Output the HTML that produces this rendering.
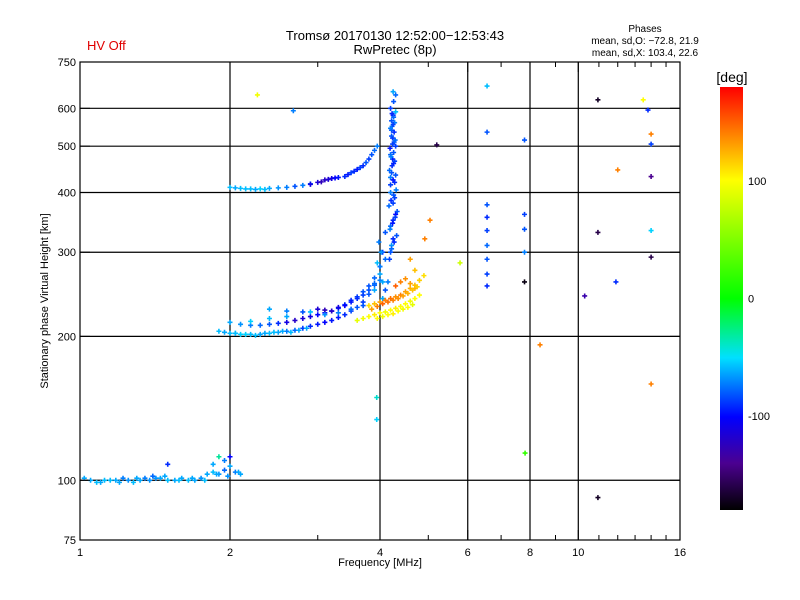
<!DOCTYPE html>
<html><head><meta charset="utf-8"><style>
body{margin:0;background:#fff;}
svg{display:block;font-family:"Liberation Sans",sans-serif;}
</style></head><body>
<svg id="chart" width="800" height="600" viewBox="0 0 800 600">
<defs>
<linearGradient id="cb" x1="0" y1="1" x2="0" y2="0">
<stop offset="0" stop-color="#000000"/>
<stop offset="0.11" stop-color="#4b0090"/>
<stop offset="0.22" stop-color="#0000ff"/>
<stop offset="0.36" stop-color="#00e0ff"/>
<stop offset="0.5" stop-color="#00ff00"/>
<stop offset="0.78" stop-color="#ffff00"/>
<stop offset="0.89" stop-color="#ff8000"/>
<stop offset="1" stop-color="#ff0000"/>
</linearGradient>
</defs>
<text x="87" y="50" fill="#e00000" font-size="13">HV Off</text>
<text x="395" y="40" text-anchor="middle" font-size="13">Tromsø 20170130 12:52:00−12:53:43</text>
<text x="395" y="54" text-anchor="middle" font-size="13">RwPretec (8p)</text>
<text x="645" y="32" text-anchor="middle" font-size="10">Phases</text>
<text x="645" y="44" text-anchor="middle" font-size="10">mean, sd,O: −72.8, 21.9</text>
<text x="645" y="56" text-anchor="middle" font-size="10">mean, sd,X: 103.4, 22.6</text>
<g id="grid"></g>
<g id="marks"></g>
<g id="axes"></g>
<rect x="80" y="62" width="600" height="478" fill="none" stroke="#000" stroke-width="1.2"/>
<text x="380" y="566" text-anchor="middle" font-size="11">Frequency [MHz]</text>
<text transform="translate(48,301) rotate(-90)" text-anchor="middle" font-size="11">Stationary phase Virtual Height [km]</text>
<rect x="720" y="87" width="23" height="423" fill="url(#cb)"/>
<text x="732" y="82" text-anchor="middle" font-size="14">[deg]</text>
<g id="cbaxis"></g>
</svg>
<script>
const xTicks=[1,2,4,6,8,10,16];
const xGrid=[2,4,6,8,10];
const xMinor=[3,5,7,9,11,12,13,14,15];
const yTicks=[75,100,200,300,400,500,600,750];
const yGrid=[100,200,300,400,500,600];
const cbTicks=[100,0,-100];
// points: frequency (MHz), virtual height (km), phase (deg)
const freq=[1.05,1.1,1.15,1.2,1.25,1.3,1.35,1.4,1.45,1.5,1.55,1.6,1.65,1.7,1.75,1.8,1.85,1.9,1.95,2.0,2.05,2.1,1.5,1.9,2.0,
1.9,1.95,2.0,2.05,2.1,2.2,2.3,2.4,2.5,2.6,2.7,2.8,2.9,3.0,3.1,3.2,3.3,3.4,3.5,3.6,3.7,3.8,3.9,4.0,4.05,4.1,
2.0,2.1,2.2,2.3,2.4,2.5,2.6,2.7,2.8,2.9,3.0,3.1,3.2,3.3,3.4,3.5,3.6,3.7,3.8,3.9,4.0,
2.4,2.6,2.8,3.0,3.1,3.2,3.3,3.4,3.5,3.6,3.7,3.8,3.9,4.0,
4.2,4.25,4.2,4.3,4.25,4.2,4.28,4.22,4.26,4.2,4.3,4.24,4.22,4.28,4.25,4.2,4.26,4.3,4.22,4.25,4.28,4.2,4.24,4.27,4.23,4.3,4.25,4.15,4.1,4.05,
2.0,2.05,2.1,2.2,2.3,2.4,2.5,2.6,2.8,2.9,3.0,3.1,3.2,3.3,3.4,3.5,3.6,3.7,3.8,3.85,3.9,3.95,
3.8,3.9,4.0,4.1,4.2,4.3,4.4,4.5,4.6,4.7,4.8,4.9,4.3,4.4,4.5,4.6,4.7,
3.6,3.7,3.8,3.9,4.0,4.1,4.2,4.3,4.4,4.5,4.6,4.7,4.8,
2.27,2.68,6.56,6.56,5.2,7.8,10.95,13.5,13.8,14,14,12.0,14,10.95,14,14,10.3,11.9,14,8.38,7.82,10.95,
6.56,6.56,6.56,6.56,6.56,6.56,6.56,7.8,7.8,7.8,7.8,5.79,3.94,3.94,5.04,4.92,4.6,4.7,
4.18,4.22,4.27,4.32,4.19,4.24,4.29,4.33,4.17,4.21,4.26,4.31,4.2,4.25,4.3,4.18,4.23,4.28,4.21,4.26,4.19,4.24,4.29,4.22,4.27,4.2,4.25,4.22,4.26,4.23,
4.0,3.95,4.02,3.98,4.05,4.1,3.9,
1.08,1.18,1.28,1.38,1.48,1.58,1.68,1.78,1.88,1.98,2.08,1.85,1.95,1.02,1.12,1.22,1.32,1.42,
2.05,2.15,2.25,2.35,2.45,2.55,2.65,2.75,2.85,2.2,2.4,2.6,2.9,3.1,3.3,3.5,3.7,
2.15,2.25,2.35,2.7,2.9,3.05,3.15,3.25,3.45,3.55,3.65,3.75,
3.85,3.95,4.05,4.15,4.25,4.35,4.45,4.55,4.65,4.75,3.95,4.05,4.15,4.25,4.35,4.45,4.55,4.65];
const height=[100,99,100,99,100,101,101,102,101,100,100,101,100,100,101,103,104,103,105,107,104,103,108,112,112,
205,204,203,203,202,202,202,203,204,205,206,208,210,212,214,216,219,222,226,230,236,245,258,280,300,330,
214,212,211,211,212,213,214,216,218,220,222,224,226,229,233,238,242,248,255,265,280,
228,226,225,228,227,226,230,232,236,240,244,250,256,262,
300,320,340,360,380,400,420,440,460,480,500,520,540,560,580,600,620,640,310,350,390,430,470,510,550,590,650,260,250,240,
410,409,408,407,407,408,409,410,414,417,420,425,428,430,432,440,447,455,470,480,490,500,
232,234,236,238,240,242,244,248,252,256,262,268,255,260,264,258,252,
216,218,220,222,224,225,227,229,231,234,237,240,244,
640,593,668,535,503,515,625,625,595,530,505,446,432,330,333,293,243,260,159,192,114,92,
377,355,333,310,290,270,255,360,335,300,260,285,149,134,350,320,290,275,
290,305,315,325,335,345,355,365,375,385,395,405,415,425,435,445,455,465,475,485,495,505,515,525,535,545,555,565,575,585,
270,285,300,315,260,290,250,
99,100,99,100,102,100,101,100,103,102,104,108,110,101,100,101,100,101,
203,202,201,203,204,205,204,206,208,215,218,220,225,222,224,228,232,
407,406,406,412,416,421,426,429,436,443,451,462,
228,231,234,236,238,240,243,246,250,254,218,220,222,223,226,228,230,233];
const phase=[-60,-60,-55,-60,-65,-60,-70,-75,-60,-55,-60,-60,-55,-60,-65,-60,-55,-65,-75,-60,-70,-60,-90,-30,-100,
-55,-60,-55,-60,-50,-55,-60,-55,-60,-70,-75,-85,-90,-95,-100,-95,-95,-90,-85,-80,-85,-80,-75,-80,-85,-80,
-60,-65,-70,-75,-80,-90,-110,-120,-115,-110,-100,-95,-90,-90,-85,-90,-85,-80,-80,-75,-70,
-60,-70,-80,-115,-125,-120,-110,-100,-95,-90,-85,-80,-75,-70,
-80,-90,-75,-100,-85,-70,-90,-80,-95,-75,-85,-90,-80,-70,-95,-85,-80,-75,-65,-90,-85,-70,-95,-80,-75,-55,-60,-70,-80,-60,
-55,-60,-55,-55,-50,-60,-65,-70,-70,-75,-115,-120,-110,-95,-90,-85,-95,-90,-85,-80,-75,-70,
110,120,130,140,145,135,140,130,125,120,115,110,150,140,135,130,125,
90,95,100,105,100,95,100,105,100,100,95,100,100,
95,-70,-55,-80,-160,-80,-170,100,-90,140,-85,140,-140,-160,-50,-160,-130,-90,140,140,20,-170,
-80,-90,-85,-75,-80,-85,-90,-85,-80,-70,-175,80,-40,-50,140,140,130,120,
-85,-75,-90,-80,-70,-95,-85,-80,-75,-90,-80,-70,-85,-95,-80,-75,-90,-85,-70,-80,-95,-85,-75,-80,-90,-70,-85,-80,-75,-90,
-60,-55,-65,-70,-60,-75,-60,
-55,-60,-55,-65,-60,-55,-60,-55,-60,-65,-60,-60,-70,-60,-55,-70,-60,-65,
-55,-50,-55,-60,-55,-60,-55,-60,-60,-50,-55,-60,-55,-65,-70,-75,-80,
-55,-60,-55,-80,-110,-125,-115,-100,-95,-90,-85,-80,
130,140,150,145,140,135,130,125,120,115,100,95,100,105,100,95,100,90];

const X0=80,X1=680,Y0=62,Y1=540;
function xs(f){return X0+(X1-X0)*Math.log2(f)/4;}
function ys(h){return Y1-(Y1-Y0)*Math.log10(h/75);}
function cbY(p){return 510-(p+180)/360*423;}
const stops=[[-180,0,0,0],[-140,75,0,144],[-100,0,0,255],[-50,0,210,255],[0,0,255,0],[100,255,255,0],[140,255,128,0],[180,255,0,0]];
function col(p){
 for(let i=1;i<stops.length;i++){if(p<=stops[i][0]){const a=stops[i-1],b=stops[i],t=(p-a[0])/(b[0]-a[0]);
 return 'rgb('+[1,2,3].map(k=>Math.round(a[k]+(b[k]-a[k])*t)).join(',')+')';}}
 return 'rgb(255,0,0)';
}
const NS='http://www.w3.org/2000/svg';
function mk(tag,attrs,parent){const e=document.createElementNS(NS,tag);for(const k in attrs)e.setAttribute(k,attrs[k]);parent.appendChild(e);return e;}
const grid=document.getElementById('grid'),axes=document.getElementById('axes'),marks=document.getElementById('marks'),cba=document.getElementById('cbaxis');
xGrid.forEach(f=>{const l=mk('line',{x1:xs(f),x2:xs(f),y1:Y0,y2:Y1,stroke:'#000','stroke-width':1.2},grid);

});
yGrid.forEach(h=>{const l=mk('line',{x1:X0,x2:X1,y1:ys(h),y2:ys(h),stroke:'#000','stroke-width':1.2},grid);

});
xTicks.forEach(f=>{const t=mk('text',{x:xs(f),y:Y1+16,'text-anchor':'middle','font-size':11},axes);t.textContent=f;


mk('line',{x1:xs(f),x2:xs(f),y1:Y1,y2:Y1-10,stroke:'#000'},axes);mk('line',{x1:xs(f),x2:xs(f),y1:Y0,y2:Y0+10,stroke:'#000'},axes);});
xMinor.forEach(f=>{mk('line',{x1:xs(f),x2:xs(f),y1:Y1,y2:Y1-5,stroke:'#000'},axes);mk('line',{x1:xs(f),x2:xs(f),y1:Y0,y2:Y0+5,stroke:'#000'},axes);});
yTicks.forEach(h=>{const t=mk('text',{x:X0-4,y:ys(h)+4,'text-anchor':'end','font-size':11},axes);t.textContent=h;


mk('line',{x1:X0,x2:X0+10,y1:ys(h),y2:ys(h),stroke:'#000'},axes);mk('line',{x1:X1,x2:X1-10,y1:ys(h),y2:ys(h),stroke:'#000'},axes);});
cbTicks.forEach(p=>{const t=mk('text',{x:748,y:cbY(p)+4,'font-size':11},cba);t.textContent=p;

});
for(let i=0;i<freq.length;i++){
 const x=xs(freq[i]),y=ys(height[i]),c=col(phase[i]);
 const p=mk('path',{d:`M${x-2.5},${y}h5M${x},${y-2.5}v5`,stroke:c,'stroke-width':1.6},marks);
 
 
}
</script>
</body></html>
